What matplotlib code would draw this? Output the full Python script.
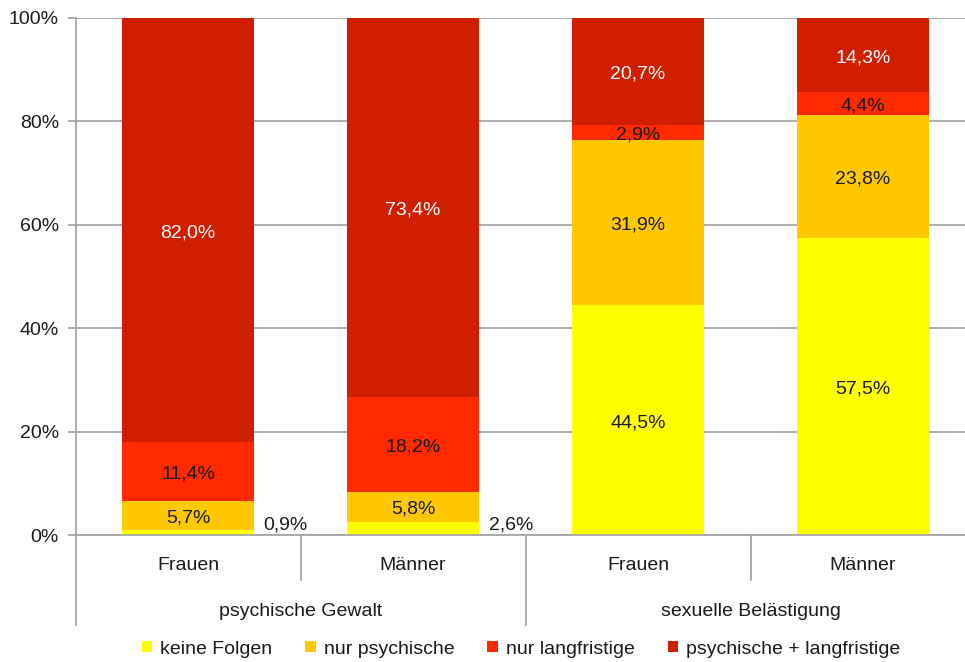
import matplotlib.pyplot as plt
import matplotlib.transforms as mtransforms
from matplotlib.patches import Patch
import numpy as np

plt.rcParams['font.family'] = ['Liberation Sans', 'DejaVu Sans']

groups = ['psychische Gewalt', 'sexuelle Belästigung']
persons = ['Frauen', 'Männer', 'Frauen', 'Männer']
series = ['keine Folgen', 'nur psychische', 'nur langfristige', 'psychische + langfristige']
keine_folgen = [0.9, 2.6, 44.5, 57.5]
nur_psychische = [5.7, 5.8, 31.9, 23.8]
nur_langfristige = [11.4, 18.2, 2.9, 4.4]
psych_lang = [82.0, 73.4, 20.7, 14.3]

colors = ['#FFFF00', '#FFC800', '#FF2A00', '#D01E00']
text_colors = ['#1a1a1a', '#1a1a1a', '#1a1a1a', 'white']
grey = '#A6A6A6'
fs = 14

fig = plt.figure(figsize=(9.65, 6.62), dpi=100)
ax = fig.add_axes([75.5 / 965, 1 - 535 / 662, 900 / 965, 517 / 662])

x = np.arange(len(persons))
data = [keine_folgen, nur_psychische, nur_langfristige, psych_lang]
bottom = np.zeros(len(persons))
for vals, col, tcol in zip(data, colors, text_colors):
    vals = np.array(vals)
    ax.bar(x, vals, bottom=bottom, width=0.587, color=col, zorder=2)
    for xi, b, v in zip(x, bottom, vals):
        lab = f'{v:.1f}%'.replace('.', ',')
        if v < 2 or (col == '#FFFF00' and v < 5):
            # small segments: label sits beside the bar
            ax.text(xi + 0.435, 2.0, lab, ha='center', va='center', fontsize=fs, color='#1a1a1a')
        else:
            ax.text(xi, b + v / 2 - 0.5, lab, ha='center', va='center', fontsize=fs, color=tcol)
    bottom += vals

ax.set_xlim(-0.5, 3.5)
ax.set_ylim(0, 100)
ax.set_yticks([0, 20, 40, 60, 80, 100])
ax.set_yticklabels([f'{t}%' for t in range(0, 101, 20)], fontsize=fs, color='#1a1a1a')
ax.yaxis.grid(True, color=grey, lw=1.3, zorder=0)
ax.set_axisbelow(True)
ax.tick_params(axis='y', length=6, width=1.3, color=grey, pad=6)
ax.set_xticks([])
for s in ['top', 'right']:
    ax.spines[s].set_visible(False)
for s in ['left', 'bottom']:
    ax.spines[s].set_color(grey)
    ax.spines[s].set_linewidth(1.3)

# multi-level category axis
trans = mtransforms.blended_transform_factory(ax.transData, ax.transAxes)
px = 1 / 517
for xs, depth in [(-0.5, 90), (0.5, 45), (1.5, 90), (2.5, 45), (3.5, 90)]:
    ax.plot([xs, xs], [0, -depth * px], color=grey, lw=1.3, transform=trans, clip_on=False)
for xi, name in zip(x, persons):
    ax.text(xi, -31 * px, name, ha='center', va='center', fontsize=fs, color='#1a1a1a', transform=trans)
for gi, name in enumerate(groups):
    ax.text(gi * 2 + 0.5, -76 * px, name, ha='center', va='center', fontsize=fs, color='#1a1a1a', transform=trans)

handles = [Patch(facecolor=c, edgecolor='none') for c in colors]
ax.legend(handles, series, loc='center', bbox_to_anchor=(0.495, -114 * px), ncol=4, frameon=False,
          fontsize=fs, handlelength=0.55, handleheight=0.55, handletextpad=0.4, columnspacing=1.7,
          labelcolor='#1a1a1a')

fig.savefig('out.png', dpi=100)
